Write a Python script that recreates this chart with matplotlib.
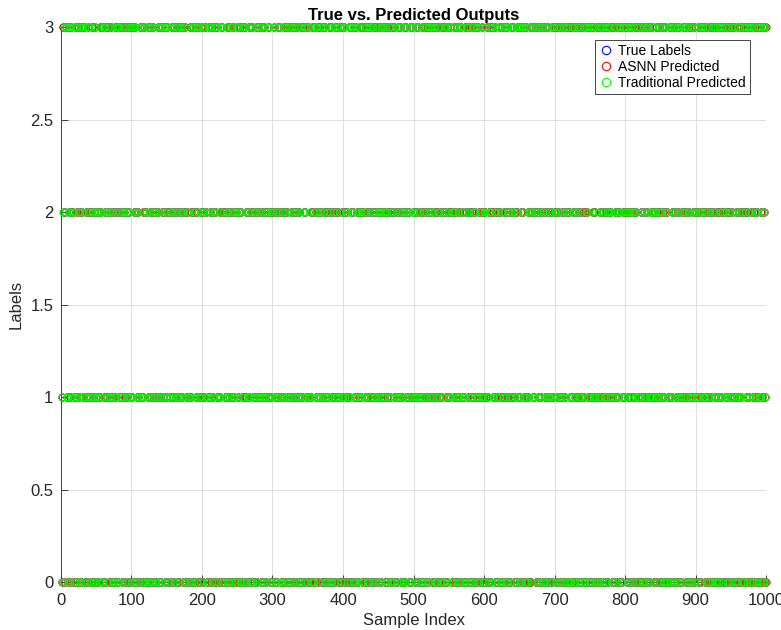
import numpy as np
import matplotlib
matplotlib.use("Agg")
import matplotlib.pyplot as plt

# class labels (0-3) for samples 1..1000, written in blocks of ten
true_labels = """
0132023110 2310322013 0123012302 1330210132 1023012031
2201312030 1203213021 3102031203 0213120321 0312023103
1320302112 0331021302 2013032102 3120013203 1023120312
3021103213 0210320132 1302031021 0132103202 1320310213
0213320103 2103120320 1310213032 0121302103 2013210230
1203021301 3210231020 3120132013 2103201321 0231302102
2310201323 1002132031 2013021302 3102310213 0132021301
3102132003 1213021320 1302310213 2031021302 1320130213
0321021310 2302130132 0213210302 1302130231 0213021320
1230132102 3012310203 2130201321 3021032013 2102310321
2013203121 0320132013 0213201320 3120310231 0230213021
3120021320 1302133021 0132031023 1021302310 3120213012
0213102320 3121032012 3021301203 1320120321 3012032103
1320213013 0210320213 1203210320 1302031201 3210230132
2031203102 1320130230 2130120310 2312031023 0120321301
0312301203 1032013201 3021302132 0130213021 3203102132
3201320132 0213023101 3201302103 2013021321 0213021302
1302130202 1301321030 2103213012 0321302130 2103120321
2130210321 3201320130 2130231023 0120312302 1302130213
0231302103 1203120302 1320310230 1023012301 3021302130
"""

asnn_pred = """
0132203110 2310322103 0123012320 1330211032 1023102031
2201312300 1203213021 3102031230 0213120321 0312023013
1320302121 0331021320 2013032102 3120013230 1023120312
3021130213 0210320132 1302031021 0132103220 1320310231
0213320103 2103120302 1310213032 0121302130 2013210203
1203021310 3210231020 3120132031 2103201321 0231302120
2310201332 1002132013 2013021302 3102310231 0132021310
3102132030 1213021302 1302310213 2031021320 1320130231
0321021301 2302130132 0213210320 1302130213 0213021302
1230132120 3012310230 2130201312 3021032031 2102310312
2013203112 0320132031 0213201302 3120310213 0230213012
3120021302 1302133012 0132031032 1021302301 3120213021
0213102302 3121032021 3021301230 1320120312 3012032130
1320213031 0210320231 1203210302 1302031210 3210230123
2031203120 1320130203 2130120301 2312031032 0120321310
0312301230 1032013210 3021302123 0130213012 3203102123
3201320123 0213023110 3201302130 2013021312 0213021320
1302130220 1301321003 2103213021 0321302103 2103120312
2130210312 3201320103 2130231032 0120312320 1302130231
0231302130 1203120320 1320310203 1023012310 3021302103
"""

trad_pred = """
0123023110 2301322013 0132012302 1303210132 1032012031
2210312030 1230213021 3120031203 0231120321 0321023103
1302302112 0313021302 2031032102 3102013203 1032120312
3012103213 0201320132 1320031021 0123103202 1302310213
0231320103 2130120320 1301213032 0112302103 2031210230
1230021301 3201231020 3102132013 2130201321 0213302102
2301201323 1020132031 2031021302 3120310213 0123021301
3120132003 1231021320 1320310213 2013021302 1302130213
0312021310 2320130132 0231210302 1320130231 0231021320
1203132102 3021310203 2103201321 3012032013 2120310321
2031203121 0302132013 0231201320 3102310231 0203213021
3102021320 1320133021 0123031023 1012302310 3102213012
0231102320 3112032012 3012301203 1302120321 3021032103
1302213013 0201320213 1230210320 1320031201 3201230132
2013203102 1302130230 2103120310 2321031023 0102321301
0321301203 1023013201 3012302132 0103213021 3230102132
3210320132 0231023101 3210302103 2031021321 0231021302
1320130202 1310321030 2130213012 0312302130 2130120321
2103210321 3210320130 2103231023 0102312302 1320130213
0213302103 1230120302 1302310230 1032012301 3012302130
"""

series_names = ["True Labels", "ASNN Predicted", "Traditional Predicted"]
series_colors = ["#0000ff", "#ff0000", "#00ff00"]


def parse(s):
    return np.array([int(c) for c in s if c.isdigit()])


plt.rcParams["font.family"] = ["Liberation Sans", "DejaVu Sans"]
axis_gray = (0.15, 0.15, 0.15)

fig = plt.figure(figsize=(7.81, 6.30), dpi=100)
ax = fig.add_axes([0.078, 0.076, 0.903, 0.881])

for s, name, col in zip([true_labels, asnn_pred, trad_pred], series_names, series_colors):
    y = parse(s)
    x = np.arange(1, len(y) + 1)
    ax.plot(x, y, linestyle="none", marker="o", markersize=5,
            markerfacecolor="none", markeredgecolor=col, markeredgewidth=0.8,
            label=name, clip_on=False, zorder=3)

ax.set_xlim(0, 1000)
ax.set_ylim(0, 3)
ax.set_xticks(np.arange(0, 1001, 100))
ax.set_yticks(np.arange(0, 3.01, 0.5))
ax.set_yticklabels(["0", "0.5", "1", "1.5", "2", "2.5", "3"])

ax.grid(True, color=(0.85, 0.85, 0.85), linewidth=0.6)
ax.set_axisbelow(True)
for side in ["top", "right"]:
    ax.spines[side].set_visible(False)
for side in ["left", "bottom"]:
    ax.spines[side].set_color(axis_gray)
    ax.spines[side].set_linewidth(0.6)
ax.tick_params(direction="in", length=5, width=0.6, colors=axis_gray,
               labelsize=12)
ax.tick_params(axis="x", pad=7.5)
ax.tick_params(axis="y", pad=5.5)

ax.set_title("True vs. Predicted Outputs", fontsize=12, fontweight="bold", pad=5)
ax.set_xlabel("Sample Index", fontsize=12, color=axis_gray, labelpad=4)
ax.set_ylabel("Labels", fontsize=12, color=axis_gray, labelpad=5)

leg = ax.legend(loc="upper right", bbox_to_anchor=(0.977, 0.977), fontsize=10,
                fancybox=False, framealpha=1, borderpad=0.3, labelspacing=0.15,
                handlelength=1.0, handletextpad=0.4, borderaxespad=0)
leg.get_frame().set_edgecolor(axis_gray)
leg.get_frame().set_linewidth(0.6)
for h in leg.legend_handles:
    h.set_markersize(6)

fig.savefig("out.png", dpi=100)
